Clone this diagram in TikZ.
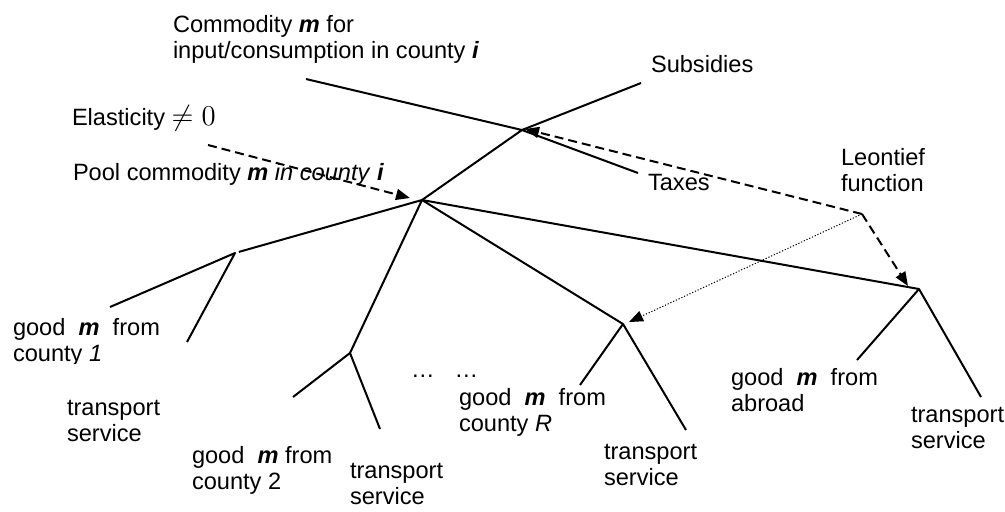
\documentclass[tikz,border=0pt]{standalone}
\usepackage{fontspec}
\setmainfont{Liberation Sans}
\usetikzlibrary{arrows.meta}
\newcommand{\boldit}[1]{\textbf{\textit{#1}}}
\begin{document}
\begin{tikzpicture}[x=0.5pt,y=-0.5pt,line width=1pt,line join=round,
		lbl/.style={anchor=base west,inner sep=0pt,align=left,font=\fontsize{11.8}{12.9}\selectfont},
		dasharrow/.style={dash pattern=on 4.5pt off 2.5pt,-{Triangle[length=7pt,width=5.5pt]}},
		dotarrow/.style={line width=0.5pt,dash pattern=on 0.6pt off 0.9pt,-{Triangle[length=7pt,width=5.5pt]}}]
		\useasboundingbox (0,0) rectangle (1005,511);
		% junctions of the nesting tree
		\coordinate (top) at (522,130);
		\coordinate (pool) at (422,200);
		\coordinate (c1) at (235,253);
		\coordinate (c2) at (350,353);
		\coordinate (cR) at (623,324);
		\coordinate (abr) at (919,289);
		\coordinate (leo) at (862,214);
		% free ends of the branches
		\coordinate (cin) at (306,79);
		\coordinate (sub) at (641,83);
		\coordinate (tax) at (638,173);
		\coordinate (c1g) at (110,307);
		\coordinate (c1t) at (187,342);
		\coordinate (c2g) at (293,397);
		\coordinate (c2t) at (380,429);
		\coordinate (cRg) at (580,385);
		\coordinate (cRt) at (686,430);
		\coordinate (abrg) at (857,360);
		\coordinate (abrt) at (981,397);
		% arrow ends
		\coordinate (ela) at (208,145);
		\coordinate (pooltip) at (410,198);
		\coordinate (toptip) at (525,129);
		\coordinate (cRtip) at (629,322);
		\coordinate (abrtip) at (908,286);
		\draw (cin) to (top) to (pool);
		\draw (top) to (sub);
		\draw (top) to (tax);
		\draw [shorten >=2pt] (pool) to (c1);
		\draw (c1g) to (c1) to (c1t);
		\draw (pool) to (c2);
		\draw (c2g) to (c2) to (c2t);
		\draw (pool) to (cR);
		\draw (cRg) to (cR) to (cRt);
		\draw (pool) to (abr);
		\draw (abrg) to (abr) to (abrt);
		\draw [dasharrow] (ela) to (pooltip);
		\draw [dasharrow] (leo) to (toptip);
		\draw [dasharrow] (leo) to (abrtip);
		\draw [dotarrow] (leo) to (cRtip);
		% labels (two-line labels sit on the baseline of their last line)
		\node[lbl] (cmd) at (172,58) {Commodity \boldit{m} for\\input/consumption in county \boldit{i}};
		\node[lbl] (subs) at (650,72) {Subsidies};
		\node[lbl] (elas) at (71,125) {Elasticity {\fontsize{14}{14}\selectfont$\neq 0$}};
		\node[lbl] (poolc) at (72,180) {Pool commodity \boldit{m} \textit{in county} \boldit{i}};
		\node[lbl] (taxes) at (647,190) {Taxes};
		\node[lbl] (leon) at (840,191) {Leontief\\function};
		\begin{scope}
			\clip (0,300) rectangle (220,363);
			\node[lbl] (good1) at (12,361) {good\ \ \boldit{m}\ \ from\\county \textit{1}};
		\end{scope}
		\node[lbl] (trans1) at (66,441) {transport\\service};
		\node[lbl] (good2) at (191,489) {good\ \ \boldit{m}\ from\\county 2};
		\node[lbl] (trans2) at (349,504) {transport\\service};
		\node[lbl] (dots) at (410,377) {…\hspace{10pt}…};
		\node[lbl] (goodR) at (458,431) {good\ \ \boldit{m}\ \ from\\county \textit{R}};
		\node[lbl] (transR) at (603,485) {transport\\service};
		\begin{scope}
			\clip (700,360) rectangle (900,413);
			\node[lbl] (goodA) at (730,411) {good\ \ \boldit{m}\ \ from\\abroad};
		\end{scope}
		\node[lbl] (transA) at (910,448) {transport\\service};
	\end{tikzpicture}
\end{document}
